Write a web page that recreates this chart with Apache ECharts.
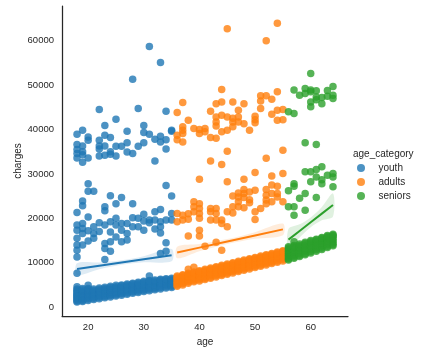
<!DOCTYPE html>
<html><head><meta charset="utf-8">
<script src="https://cdn.jsdelivr.net/npm/echarts@6/dist/echarts.min.js"></script>
<style>html,body{margin:0;padding:0;background:#fff}#c{width:434px;height:356px}</style>
</head><body><div id="c"></div>
<script>
const categories = ['youth', 'adults', 'seniors'];
const xTicks = [20, 30, 40, 50, 60];
const yTicks = [0, 10000, 20000, 30000, 40000, 50000, 60000];

// dense lower band (per age)
const youthBaseAges = [18,19,20,21,22,23,24,25,26,27,28,29,30,31,32,33,34,35];
const youthBaseCharges = [
  [1150,1400,1650,1900,2150,2400,2650,2900,3200,3500,3800,4100,4570],
  [1250,1500,1750,2000,2250,2500,2750,3000,3300,3600,3900,4200],
  [1500,1800,2100,2400,2700,3000,3300,3600,3900,4200,4950],
  [1700,2000,2300,2600,2900,3200,3500,3800,4100],
  [1900,2200,2500,2800,3100,3400,3700,4000,4300],
  [2100,2400,2700,3000,3300,3600,3900,4200,4500],
  [2300,2600,2900,3200,3500,3800,4100,4400,4700],
  [2500,2800,3100,3400,3700,4000,4300,4600,4900],
  [2700,3000,3300,3600,3900,4200,4500,4800,5000],
  [2900,3200,3500,3800,4100,4400,4700,5000,5200],
  [3100,3400,3700,4000,4300,4600,4900,5200,5400],
  [3300,3600,3900,4200,4500,4800,5100,5400,5600],
  [3500,3800,4100,4400,4700,5000,5300,5600,5800],
  [3700,4000,4300,4600,4900,5200,5500,5800,6000,7000],
  [3900,4200,4500,4800,5100,5400,5600,5900,6100],
  [4100,4400,4700,5000,5200,5500,5800,6100,6300],
  [4300,4600,4900,5200,5400,5700,5900,6200,6400],
  [4400,4700,5000,5300,5500,5800,6000,6300,6500]
];
const adultsBaseAges = [36,37,38,39,40,41,42,43,44,45,46,47,48,49,50,51,52,53,54,55];
const adultsBaseCharges = [
  [4700,5000,5300,5600,5900,6200,6500,6800,7000],
  [5000,5300,5600,5900,6200,6500,6800,7100,7300],
  [5400,5700,6000,6300,6600,6900,7100,7400,7600,8500],
  [5700,6000,6300,6600,6900,7200,7400,7700,7900,9000],
  [5900,6200,6500,6800,7100,7400,7700,8000,8200],
  [6200,6500,6800,7100,7400,7700,8000,8300,8500],
  [6500,6800,7100,7400,7700,8000,8300,8600,8800],
  [6800,7100,7400,7700,8000,8300,8600,8900,9100],
  [7100,7400,7700,8000,8300,8600,8900,9200,9400],
  [7400,7700,8000,8300,8600,8900,9200,9500,9700],
  [7700,8000,8300,8600,8900,9200,9500,9800,10000],
  [8000,8300,8600,8900,9200,9500,9800,10100,10300],
  [8300,8600,8900,9200,9500,9800,10100,10400,10600],
  [8600,8900,9200,9500,9800,10100,10400,10700,10900],
  [8900,9200,9500,9800,10100,10400,10700,11000,11200],
  [9200,9500,9800,10100,10400,10700,11000,11300,11500],
  [9500,9800,10100,10400,10700,11000,11300,11600,11800],
  [9800,10100,10400,10700,11000,11300,11600,11900,12100],
  [10100,10400,10700,11000,11300,11600,11900,12200,12400],
  [10400,10700,11000,11300,11600,11900,12200,12500,12700]
];
const seniorsBaseAges = [56,57,58,59,60,61,62,63,64];
const seniorsBaseCharges = [
  [10600,10900,11300,11700,12100,12500,12900,13300,13600],
  [11000,11300,11700,12100,12500,12900,13300,13600,13900,14700],
  [11400,11700,12100,12500,12900,13300,13600,13900,14200],
  [11800,12100,12500,12900,13300,13700,14000,14300,14600],
  [12200,12500,12900,13300,13700,14100,14400,14700,15000],
  [12600,12900,13300,13700,14100,14500,14800,15100,15300],
  [13000,13300,13700,14100,14500,14900,15200,15500,15700],
  [13400,13700,14100,14500,14900,15300,15600,15900,16100],
  [13800,14100,14500,14900,15300,15700,16000,16200,16400]
];

// scattered higher charges
const youthHigh = [
  [31,58700],[33,55100],[28,51300],[22,44500],[29,44700],[34,44100],[25,42300],[23,40900],[30,40900],
  [19,39800],[18,38900],[20,38300],[20,37600],[27,39600],[30,39300],[23,38700],[24,38200],[22,37600],
  [31,38900],[32,37800],[33,38500],[34,37700],[35,39800],[35,39600],
  [18,36600],[19,36300],[18,34600],[19,34300],[18,33600],[19,32600],[19,35000],[18,35500],[20,33600],
  [22,36300],[22,35600],[22,34000],[23,36300],[23,34200],[24,35000],[24,34400],[25,36200],[25,34000],
  [26,36200],[27,37000],[27,34900],[28,34600],[29,36200],[30,37000],[32,32900],[33,37200],[34,35600]
];
const youthMid = [
  [20,27800],[20,26100],[21,26100],[19,23900],[19,22800],[18,21300],[24,25100],[26,24700],[25,23300],
  [23,22600],[23,21700],[28,23300],[34,27400],[35,25000],[32,21500],[33,22000],
  [18,18500],[18,17300],[18,15500],[18,14000],[18,12800],[18,11300],[19,18800],[19,17700],[19,16600],
  [19,14000],[20,20300],[20,17200],[20,14900],[21,18100],[21,16600],[21,15500],[23,18500],[23,14300],
  [23,13200],[23,10700],[24,19200],[24,16900],[24,12600],[24,14700],[25,20000],[25,18500],[25,15800],
  [26,18800],[26,17300],[26,14700],[27,18800],[27,16600],[27,15100],[28,20100],[28,18100],[29,20000],
  [29,18100],[30,20900],[30,19400],[30,17300],[31,19600],[31,19000],[32,19600],[32,17600],[33,19200],
  [33,18100],[33,16700],[34,19600],[34,14500],[34,12600],[35,21100],[35,19600],[18,7600],[33,12100],
  [22,19000],[22,17000]
];
const adultsHigh = [
  [45,62700],[54,63900],[52,60000],
  [44,49000],[37,46100],[36,43800],[38,42100],[37,40600],[37,39800],[37,39100],[36,38700],[36,37700],
  [37,37200],[39,40200],[40,40000],[40,39100],[41,40200],[41,39500],[42,38200],[42,44100],[43,42800],
  [43,41700],[43,40800],[44,43200],[43,45800],[44,46200],[44,39500],[43,38000],[45,42800],[45,39800],
  [46,46200],[46,42500],[46,41700],[46,40600],[47,44300],[47,42800],[47,41700],[48,45800],[48,41300],
  [49,39800],[50,43000],[50,42200],[50,41500],[51,47600],[51,46400],[51,44700],[52,47600],[53,46800],
  [54,48500],[53,43400],[54,44300],[54,42100],[55,44500],[55,42200],
  [45,35100],[42,32900],[44,32100],[52,33500],[55,35300]
];
const adultsMid = [
  [50,30300],[40,28800],[48,28800],[45,28200],[53,29500],[55,30100],
  [54,27200],[50,26300],[48,26500],[48,25600],[48,24700],[47,25700],[47,24800],[47,23700],[47,22600],
  [46,25000],[49,25900],[49,24200],[49,23500],[52,26500],[52,25200],[52,24100],[52,23300],[53,27500],
  [53,25600],[53,23700],[54,25600],[54,24800],[55,23700],[51,22200],[50,21500],[48,22400],[46,22600],
  [46,21200],[45,21500],[44,19600],[44,18800],[43,22200],[43,21100],[43,19600],[42,22200],[42,21500],
  [42,19600],[40,23300],[40,22200],[40,21100],[40,20000],[39,23700],[39,22600],[39,21500],[37,20700],
  [37,19600],[36,21100],[36,19200],[45,18100],[50,19700],[40,17300],[40,16000],[38,16000],[43,14600],
  [41,13700],[44,12800],[38,21000],[38,19800]
];
const seniorsHigh = [
  [60,52600],[57,48900],[59,49200],[59,48100],[58,47700],[60,48900],[60,48500],[61,48700],[60,46200],
  [60,45100],[61,47300],[61,46700],[62,47200],[62,45800],[63,48800],[63,47500],[64,49700],[64,47700],
  [64,47000],[56,44000],[57,43600],[59,37000],[61,36600]
];
const seniorsMid = [
  [59,30500],[60,30500],[61,31000],[62,31600],[61,29300],[62,28700],[62,27800],[63,29700],[64,30100],
  [64,29300],[64,27100],[60,28200],[57,27800],[57,27200],[56,26200],[58,24500],[59,25600],[61,24700],
  [56,22600],[57,22600],[57,20700],[59,21800]
];

// regression fits and confidence bands
const youthFitAges = [18,22,26,30,35];
const youthFit = [8560,9300,10040,10780,11700];
const youthHi = [9860,10050,10540,11480,13100];
const youthLo = [7260,8550,9540,10080,10300];
const adultsFitAges = [36,40,45,50,55];
const adultsFit = [12300,13400,14760,16130,17500];
const adultsHi = [13600,14200,15310,16880,18800];
const adultsLo = [11000,12600,14210,15380,16200];
const seniorsFitAges = [56,58,60,62,64];
const seniorsFit = [15200,17150,19100,21050,23000];
const seniorsHi = [17600,18650,20200,22550,25600];
const seniorsLo = [12800,15650,18000,19550,20400];

function expand(ages, lists) {
  const out = [];
  ages.forEach((a, i) => lists[i].forEach(v => out.push([a, v])));
  return out;
}
const pts = [
  expand(youthBaseAges, youthBaseCharges).concat(youthMid, youthHigh),
  expand(adultsBaseAges, adultsBaseCharges).concat(adultsMid, adultsHigh),
  expand(seniorsBaseAges, seniorsBaseCharges).concat(seniorsMid, seniorsHigh)
];
const fits = [
  [youthFitAges, youthFit, youthLo, youthHi],
  [adultsFitAges, adultsFit, adultsLo, adultsHi],
  [seniorsFitAges, seniorsFit, seniorsLo, seniorsHi]
];
const colors = ['#1f77b4', '#ff7f0e', '#2ca02c'];
const FONT = '"Liberation Sans", Arial, sans-serif';
const TXT = '#262626';

const series = [];
categories.forEach((name, k) => {
  series.push({
    name: name, type: 'scatter', data: pts[k], symbolSize: 7.5, z: 2 + k * 3,
    itemStyle: { color: colors[k], opacity: 0.8 }
  });
  const f = fits[k];
  series.push({
    type: 'custom', z: 3 + k * 3, silent: true,
    data: [[f[0][0], f[1][0]]],
    renderItem: (params, api) => {
      const points = [];
      for (let i = 0; i < f[0].length; i++) points.push(api.coord([f[0][i], f[3][i]]));
      for (let i = f[0].length - 1; i >= 0; i--) points.push(api.coord([f[0][i], f[2][i]]));
      return { type: 'polygon', shape: { points: points, smooth: 0.3 }, style: { fill: colors[k], opacity: 0.15 } };
    }
  });
  series.push({
    type: 'line', z: 4 + k * 3, silent: true, symbol: 'none',
    data: f[0].map((a, i) => [a, f[1][i]]),
    lineStyle: { color: colors[k], width: 2 }
  });
});

const chart = echarts.init(document.getElementById('c'), null, { renderer: 'canvas' });
chart.setOption({
  animation: false,
  backgroundColor: '#fff',
  grid: { left: 62, top: 6, width: 286, height: 310, containLabel: false, outerBoundsMode: 'none' },
  xAxis: {
    type: 'value', min: 15.3, max: 66.7,
    axisLine: { show: true, onZero: false, lineStyle: { color: TXT, width: 1.25 } },
    axisTick: { show: false }, splitLine: { show: false },
    axisLabel: { customValues: xTicks, formatter: v => String(v), color: TXT, fontSize: 9.5, fontFamily: FONT, margin: 6 }
  },
  yAxis: {
    type: 'value', min: -2000, max: 67800,
    axisLine: { show: true, onZero: false, lineStyle: { color: TXT, width: 1.25 } },
    axisTick: { show: false }, splitLine: { show: false },
    axisLabel: { customValues: yTicks, formatter: v => String(v), color: TXT, fontSize: 9.5, fontFamily: FONT, margin: 8 }
  },
  legend: {
    data: categories, orient: 'vertical', left: 352, top: 158,
    itemWidth: 25, itemHeight: 8, itemGap: 4, icon: 'circle',
    textStyle: { color: TXT, fontSize: 10, fontFamily: FONT, lineHeight: 10 }
  },
  graphic: [
    { type: 'text', left: 353, top: 149, style: { text: 'age_category', fill: TXT, font: '10px ' + FONT } },
    { type: 'text', x: 205, y: 342, style: { text: 'age', fill: TXT, font: '10px ' + FONT, align: 'center', verticalAlign: 'middle' } },
    { type: 'text', x: 18, y: 161, rotation: Math.PI / 2, style: { text: 'charges', fill: TXT, font: '10px ' + FONT, align: 'center', verticalAlign: 'middle' } }
  ],
  series: series
});
</script>
</body></html>
